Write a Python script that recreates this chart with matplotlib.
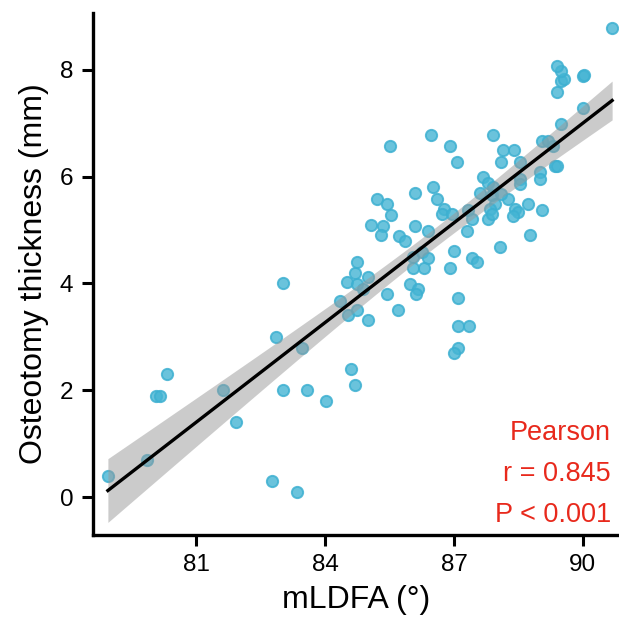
import matplotlib
matplotlib.use("Agg")
import matplotlib.pyplot as plt
import numpy as np

plt.rcParams['font.family'] = ['Liberation Sans', 'DejaVu Sans']

# mLDFA (deg) and osteotomy thickness (mm)
mldfa = [78.94, 79.84, 80.05, 80.15, 80.32, 81.61, 81.92, 82.77, 82.85, 83.01,
         83.01, 83.35, 83.47, 83.57, 84.01, 84.60, 84.70,
         84.35, 84.54, 84.50, 84.74, 84.74, 84.89, 84.70, 84.74, 85.00, 85.00,
         85.43, 85.69, 85.98, 86.17, 86.11, 86.05, 86.05, 86.25, 86.40, 86.29,
         85.07, 85.34, 85.31, 85.71, 85.86, 86.10, 86.40, 85.20, 85.43, 85.53,
         86.10, 86.52, 86.60, 86.77, 86.71, 86.95,
         85.51, 86.46, 86.91, 87.06,
         87.00, 86.91, 87.41, 87.53, 87.08, 87.10, 87.35, 87.10, 87.00, 87.30,
         87.33, 87.41, 87.60, 87.67, 87.78, 87.90, 87.91, 87.88, 87.95, 87.84,
         87.80, 87.88, 88.07, 88.09, 88.15, 88.40, 88.53, 88.26, 88.09, 88.42,
         88.49, 88.37, 88.53, 88.53, 88.73, 88.77, 89.04, 89.00, 89.00, 89.04,
         89.18, 89.31, 89.35, 89.39, 89.50, 90.00, 89.40, 89.50, 89.55, 89.50,
         89.40, 90.00, 90.02, 90.68]
thickness = [0.40, 0.70, 1.90, 1.90, 2.30, 2.00, 1.40, 0.30, 3.00, 2.00,
             4.00, 0.10, 2.80, 2.00, 1.80, 2.40, 2.10,
             3.68, 3.40, 4.02, 3.50, 3.99, 3.90, 4.20, 4.40, 4.12, 3.31,
             3.80, 3.50, 3.99, 3.90, 3.80, 4.49, 4.29, 4.59, 4.48, 4.29,
             5.10, 5.08, 4.90, 4.88, 4.79, 5.08, 4.99, 5.58, 5.49, 5.28,
             5.70, 5.80, 5.58, 5.40, 5.30, 5.30,
             6.58, 6.78, 6.58, 6.28,
             4.60, 4.29, 4.48, 4.40, 3.72, 3.20, 3.20, 2.80, 2.70, 4.99,
             5.38, 5.21, 5.70, 5.99, 5.88, 6.77, 5.80, 5.65, 5.49, 5.40,
             5.21, 5.30, 4.68, 6.27, 6.49, 6.49, 6.27, 5.58, 5.68, 5.40,
             5.33, 5.27, 5.96, 5.86, 5.49, 4.90, 5.38, 6.08, 5.96, 6.67,
             6.67, 6.57, 6.19, 6.19, 6.98, 7.28, 7.58, 7.78, 7.83, 7.97,
             8.07, 7.88, 7.90, 8.78]

x_ticks = [81, 84, 87, 90]
y_ticks = [0, 2, 4, 6, 8]
stats_text = ["Pearson", "r = 0.845", "P < 0.001"]

x = np.array(mldfa)
y = np.array(thickness)

# linear fit with 95% confidence band
slope, intercept = np.polyfit(x, y, 1)
n = len(x)
resid = y - (slope * x + intercept)
s = np.sqrt(np.sum(resid ** 2) / (n - 2))
sxx = np.sum((x - x.mean()) ** 2)
xs = np.linspace(x.min(), x.max(), 200)
ys = slope * xs + intercept
se = s * np.sqrt(1.0 / n + (xs - x.mean()) ** 2 / sxx)
t = 1.98

fig = plt.figure(figsize=(6.19, 6.25), dpi=100)
ax = fig.add_axes([0.150, 0.144, 0.850, 0.835])

ax.scatter(x, y, s=66, facecolor=(0.27, 0.71, 0.83, 0.8),
           edgecolor=(0.24, 0.69, 0.82, 0.85), linewidth=1.4, zorder=1)
ax.fill_between(xs, ys - t * se, ys + t * se, color="#999999", alpha=0.5,
                linewidth=0, zorder=2)
ax.plot(xs, ys, color="black", linewidth=2.4, zorder=3)

ax.set_xlim(78.59, 90.84)
ax.set_ylim(-0.71, 9.06)
ax.set_xticks(x_ticks)
ax.set_yticks(y_ticks)

for side in ["top", "right"]:
    ax.spines[side].set_visible(False)
for side in ["left", "bottom"]:
    ax.spines[side].set_linewidth(2.4)
ax.tick_params(axis="both", direction="out", length=8, width=2.2,
               labelsize=17.5, pad=6, colors="black")

ax.set_xlabel("mLDFA (°)", fontsize=23, labelpad=6)
ax.set_ylabel("Osteotomy thickness (mm)", fontsize=23, labelpad=8)

for i, txt in enumerate(stats_text):
    ax.text(0.985, 0.195 - i * 0.078, txt, transform=ax.transAxes,
            ha="right", va="center", fontsize=19.5, color="#E8291C")

fig.savefig("out.png", dpi=100)
